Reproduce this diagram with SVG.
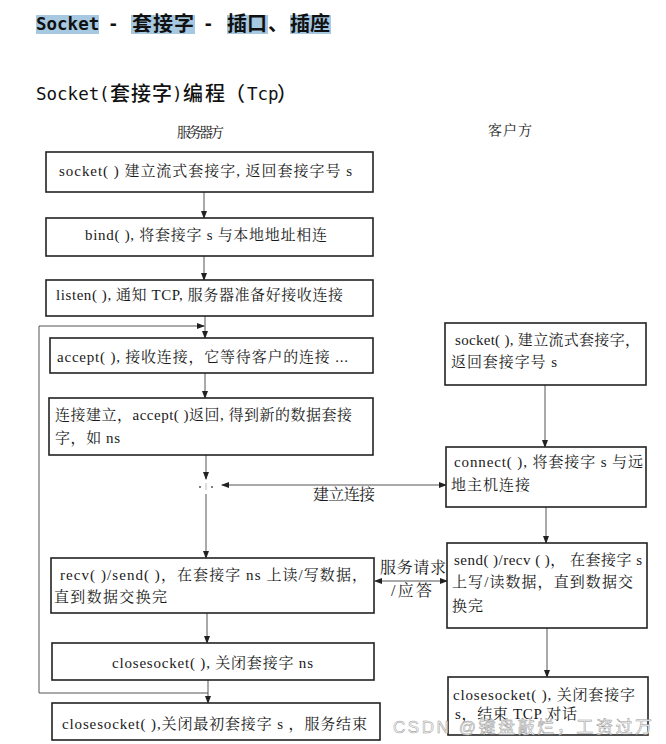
<svg xmlns="http://www.w3.org/2000/svg" width="666" height="744" viewBox="0 0 666 744">
<style>
.bx{fill:#fff;stroke:#222;stroke-width:1.6}
.ln{fill:none;stroke:#555;stroke-width:1}
.t{font-family:"Liberation Serif","Noto Serif CJK SC","Noto Sans CJK SC",serif;font-size:15px;fill:#1a1a1a}
.h{font-family:"Liberation Serif","Noto Serif CJK SC","Noto Sans CJK SC",serif;font-size:14px;fill:#222}
.m1{font-family:"DejaVu Sans Mono","Liberation Mono",monospace;font-size:17.5px;font-weight:bold;fill:#111}
.c1{font-family:"Noto Sans CJK SC",sans-serif;font-size:20px;font-weight:bold;fill:#111}
.m2{font-family:"DejaVu Sans Mono","Liberation Mono",monospace;font-size:17.5px;fill:#111}
.c2{font-family:"Noto Sans CJK SC",sans-serif;font-size:20px;font-weight:500;fill:#111}
.hl{fill:#a6c8e0}
.wm{font-family:"Liberation Sans","Noto Sans CJK SC",sans-serif;font-size:17px;fill:#fafafa;stroke:#999;stroke-width:0.5}
</style>
<defs>
<marker id="ar" markerWidth="8" markerHeight="6" refX="7" refY="3" orient="auto" markerUnits="userSpaceOnUse">
<path d="M0,0 L8,3 L0,6 Z" fill="#222"/>
</marker>
<marker id="as" markerWidth="8" markerHeight="6" refX="1" refY="3" orient="auto" markerUnits="userSpaceOnUse">
<path d="M8,0 L0,3 L8,6 Z" fill="#222"/>
</marker>
</defs>

<g id="title1">
<rect class="hl" x="36" y="15" width="63" height="19"/>
<rect class="hl" x="131" y="15" width="64" height="19"/>
<rect class="hl" x="227" y="15" width="41" height="19"/>
<rect class="hl" x="290" y="15" width="41" height="19"/>
<text class="m1" x="36" y="30">Socket</text>
<text class="m1" x="108" y="30">-</text>
<text class="c1" x="132" y="31" textLength="62" lengthAdjust="spacing">套接字</text>
<text class="m1" x="203" y="30">-</text>
<text class="c1" x="227" y="31" textLength="40" lengthAdjust="spacing">插口</text>
<text class="c1" x="268" y="31">、</text>
<text class="c1" x="290" y="31" textLength="40" lengthAdjust="spacing">插座</text>
</g>

<g id="title2">
<text class="m2" x="36" y="100">Socket</text>
<text class="m2" x="99" y="100">(</text>
<text class="c2" x="110" y="101" textLength="62" lengthAdjust="spacing">套接字</text>
<text class="m2" x="172" y="100">)</text>
<text class="c2" x="183" y="101" textLength="42" lengthAdjust="spacing">编程</text>
<text class="c2" x="225" y="101">（</text>
<text class="m2" x="247" y="100">Tcp</text>
<text class="c2" x="277" y="101">）</text>
</g>

<g id="headers">
<text class="h" x="177" y="137" textLength="47" lengthAdjust="spacing">服务器方</text>
<text class="h" x="488" y="135" textLength="44" lengthAdjust="spacing">客户方</text>
</g>

<g id="connectors">
<line class="ln" x1="204" y1="192" x2="204" y2="218" marker-end="url(#ar)"/>
<line class="ln" x1="204" y1="256" x2="204" y2="280" marker-end="url(#ar)"/>
<line class="ln" x1="205" y1="316" x2="205" y2="338" marker-end="url(#ar)"/>
<polyline class="ln" points="208,693 39,693 39,326 204,326" marker-end="url(#ar)"/>
<line class="ln" x1="205" y1="373" x2="205" y2="398" marker-end="url(#ar)"/>
<line class="ln" x1="206" y1="455" x2="206" y2="479" marker-end="url(#ar)"/>
<circle cx="200" cy="487" r="1" fill="#555"/>
<circle cx="212" cy="487" r="1" fill="#555"/>
<line x1="206" y1="483" x2="206" y2="490" stroke="#bbb" stroke-width="1"/>
<line class="ln" x1="206" y1="494" x2="206" y2="558" marker-end="url(#ar)"/>
<line class="ln" x1="207" y1="613" x2="207" y2="643" marker-end="url(#ar)"/>
<line class="ln" x1="208" y1="680" x2="208" y2="703" marker-end="url(#ar)"/>
<line class="ln" x1="222" y1="485" x2="446" y2="485" marker-start="url(#as)" marker-end="url(#ar)"/>
<line class="ln" x1="375" y1="581" x2="447" y2="581" marker-start="url(#as)" marker-end="url(#ar)"/>
<line class="ln" x1="545" y1="385" x2="545" y2="447" marker-end="url(#ar)"/>
<line class="ln" x1="546" y1="507" x2="546" y2="543" marker-end="url(#ar)"/>
<line class="ln" x1="547" y1="628" x2="547" y2="677" marker-end="url(#ar)"/>
<text class="t" x="313" y="500" textLength="62" lengthAdjust="spacing" style="font-size:16px">建立连接</text>
<text class="t" x="380" y="573" textLength="66" lengthAdjust="spacing" style="font-size:16px">服务请求</text>
<text class="t" x="391" y="596" textLength="41" lengthAdjust="spacing" style="font-size:16px">/应答</text>
</g>

<g id="s1"><rect class="bx" x="46" y="152" width="327" height="40"/>
<text class="t" x="59" y="176" textLength="293" lengthAdjust="spacing">socket( ) 建立流式套接字, 返回套接字号 s</text></g>
<g id="s2"><rect class="bx" x="46" y="218" width="327" height="38"/>
<text class="t" x="85" y="240" textLength="242" lengthAdjust="spacing">bind( ), 将套接字 s 与本地地址相连</text></g>
<g id="s3"><rect class="bx" x="46" y="280" width="327" height="36"/>
<text class="t" x="56" y="300" textLength="287" lengthAdjust="spacing">listen( ), 通知 TCP, 服务器准备好接收连接</text></g>
<g id="s4"><rect class="bx" x="50" y="338" width="323" height="35"/>
<text class="t" x="57" y="362" textLength="291" lengthAdjust="spacing">accept( ), 接收连接，它等待客户的连接 ...</text></g>
<g id="s5"><rect class="bx" x="49" y="398" width="324" height="57"/>
<text class="t" x="55" y="420" textLength="297" lengthAdjust="spacing">连接建立，accept( )返回, 得到新的数据套接</text>
<text class="t" x="55" y="443" textLength="65" lengthAdjust="spacing">字，如 ns</text></g>
<g id="s6"><rect class="bx" x="51" y="558" width="323" height="55"/>
<text class="t" x="60" y="580" textLength="307" lengthAdjust="spacing">recv( )/send( )，在套接字 ns 上读/写数据，</text>
<text class="t" x="54" y="602" textLength="113" lengthAdjust="spacing">直到数据交换完</text></g>
<g id="s7"><rect class="bx" x="52" y="643" width="322" height="37"/>
<text class="t" x="112" y="668" textLength="201" lengthAdjust="spacing">closesocket( ), 关闭套接字 ns</text></g>
<g id="s8"><rect class="bx" x="52" y="703" width="328" height="37"/>
<text class="t" x="62" y="729" textLength="305" lengthAdjust="spacing">closesocket( ),关闭最初套接字 s ，服务结束</text></g>

<g id="c1"><rect class="bx" x="445" y="323" width="201" height="62"/>
<text class="t" x="455" y="345" textLength="185" lengthAdjust="spacing">socket( ), 建立流式套接字，</text>
<text class="t" x="451" y="367" textLength="106" lengthAdjust="spacing">返回套接字号 s</text></g>
<g id="c2"><rect class="bx" x="446" y="447" width="200" height="60"/>
<text class="t" x="454" y="467" textLength="189" lengthAdjust="spacing">connect( ), 将套接字 s 与远</text>
<text class="t" x="451" y="490" textLength="79" lengthAdjust="spacing">地主机连接</text></g>
<g id="c3"><rect class="bx" x="447" y="543" width="200" height="85"/>
<text class="t" x="454" y="565" textLength="188" lengthAdjust="spacing">send( )/recv ( )，  在套接字 s</text>
<text class="t" x="452" y="587" textLength="181" lengthAdjust="spacing">上写/读数据，直到数据交</text>
<text class="t" x="452" y="611" textLength="31" lengthAdjust="spacing">换完</text></g>
<g id="c4"><rect class="bx" x="448" y="677" width="200" height="58"/>
<text class="t" x="453" y="700" textLength="182" lengthAdjust="spacing">closesocket( ), 关闭套接字</text>
<text class="t" x="455" y="719" textLength="122" lengthAdjust="spacing">s，结束 TCP 对话</text></g>

<g id="watermark">
<text class="wm" x="393" y="733" textLength="259" lengthAdjust="spacing">CSDN @键盘敲烂，工资过万</text>
</g>
</svg>
